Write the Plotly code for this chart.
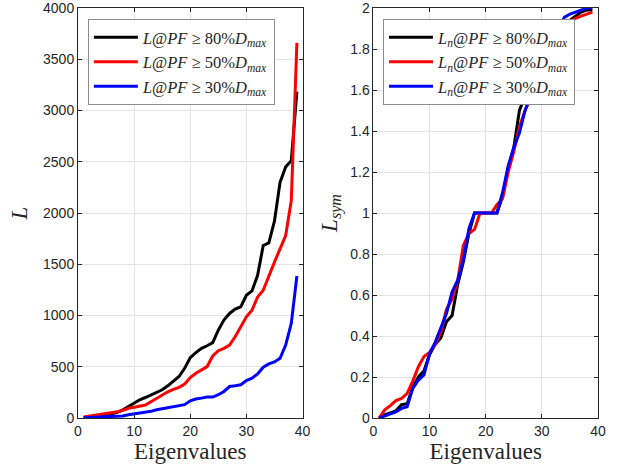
import plotly.graph_objects as go
from plotly.subplots import make_subplots

eig = list(range(1, 40))

L80 = [5, 10, 15, 22, 30, 40, 55, 80, 113, 145, 178, 200, 226, 249, 275, 314, 356, 405, 485, 589,
       638, 680, 705, 735, 858, 955, 1020, 1062, 1085, 1197, 1240, 1392, 1683, 1709, 1920, 2300, 2450, 2510, 3185]
L50 = [10, 18, 25, 30, 38, 45, 60, 75, 95, 104, 117, 127, 159, 192, 224, 256, 279, 299, 331, 395,
       437, 469, 502, 605, 657, 680, 712, 793, 890, 987, 1052, 1181, 1246, 1392, 1521, 1650, 1780, 2120, 3660]
L30 = [2, 4, 6, 8, 10, 13, 16, 20, 32, 39, 49, 58, 65, 81, 91, 104, 107, 120, 130, 168,
       185, 194, 204, 204, 227, 259, 307, 314, 324, 366, 388, 430, 495, 528, 547, 583, 712, 922, 1385]

Ln80 = [0, 0.015, 0.025, 0.035, 0.065, 0.07, 0.15, 0.2, 0.23, 0.31, 0.36, 0.39, 0.47, 0.5, 0.65, 0.76, 0.9, 1.0, 1.0, 1.0,
        1.0, 1.0, 1.08, 1.22, 1.32, 1.5, 1.57, 1.6, 1.63, 1.68, 1.74, 1.8, 1.86, 1.92, 1.94, 1.96, 1.98, 1.99, 1.99]
Ln50 = [0, 0.04, 0.06, 0.085, 0.095, 0.12, 0.18, 0.25, 0.3, 0.32, 0.36, 0.42, 0.53, 0.58, 0.67, 0.84, 0.9, 0.92, 1.0, 1.0,
        1.0, 1.04, 1.07, 1.2, 1.3, 1.42, 1.5, 1.56, 1.58, 1.66, 1.72, 1.78, 1.84, 1.9, 1.93, 1.95, 1.96, 1.97, 1.98]
Ln30 = [0, 0.01, 0.023, 0.03, 0.047, 0.055, 0.145, 0.185, 0.21, 0.315, 0.37, 0.437, 0.51, 0.615, 0.672, 0.77, 0.924, 1.0, 1.0, 1.0,
        1.0, 1.0, 1.1, 1.23, 1.32, 1.39, 1.5, 1.57, 1.62, 1.68, 1.75, 1.82, 1.9, 1.955, 1.97, 1.98, 1.99, 2.0, 2.0]

x_ticks = [0, 10, 20, 30, 40]
L_ticks = [0, 500, 1000, 1500, 2000, 2500, 3000, 3500, 4000]
Lsym_ticks = [0, 0.2, 0.4, 0.6, 0.8, 1.0, 1.2, 1.4, 1.6, 1.8, 2.0]
Lsym_labels = ["0", "0.2", "0.4", "0.6", "0.8", "1", "1.2", "1.4", "1.6", "1.8", "2"]

colors = ["#000000", "#ff0000", "#0000ff"]
pcts = ["80", "50", "30"]

fig = make_subplots(rows=1, cols=2, horizontal_spacing=0.1365)

for ys, c, p in zip([L80, L50, L30], colors, pcts):
    fig.add_trace(go.Scatter(x=eig, y=ys, mode="lines", line=dict(color=c, width=3),
                             name=f"<i>L</i>@<i>PF</i> ≥ {p}%<i>D</i><sub><i>max</i></sub>",
                             legend="legend"), row=1, col=1)
for ys, c, p in zip([Ln80, Ln50, Ln30], colors, pcts):
    fig.add_trace(go.Scatter(x=eig, y=ys, mode="lines", line=dict(color=c, width=3),
                             name=f"<i>L</i><sub><i>n</i></sub>@<i>PF</i> ≥ {p}%<i>D</i><sub><i>max</i></sub>",
                             legend="legend2"), row=1, col=2)

axcol = "#262626"
common = dict(showline=True, linecolor=axcol, linewidth=1, mirror="ticks", ticks="inside",
              ticklen=4, tickcolor=axcol, showgrid=True, gridcolor="#e3e3e3", gridwidth=1,
              zeroline=False, automargin=False, ticklabeloverflow="allow",
              tickfont=dict(family="Liberation Sans, Arial", size=14, color=axcol))

fig.update_xaxes(range=[0, 40], tickvals=x_ticks, ticktext=[str(v) for v in x_ticks], **common,
                 title=dict(text="Eigenvalues", font=dict(family="Liberation Serif, serif", size=23, color=axcol),
                            standoff=4))
fig.update_yaxes(**common)
fig.update_yaxes(range=[0, 4000], tickvals=L_ticks, ticktext=[str(v) for v in L_ticks], row=1, col=1,
                 title=dict(text="<i>L</i>", font=dict(family="Liberation Serif, serif", size=23, color=axcol),
                            standoff=8))
fig.update_yaxes(range=[0, 2], tickvals=Lsym_ticks, ticktext=Lsym_labels, row=1, col=2,
                 title=dict(text="<i>L</i><sub><i>sym</i></sub>", font=dict(family="Liberation Serif, serif", size=23, color=axcol),
                            standoff=6))

legstyle = dict(bgcolor="white", bordercolor="#8c8c8c", borderwidth=1,
                font=dict(family="Liberation Serif, serif", size=16.5, color=axcol),
                xanchor="left", yanchor="top", tracegroupgap=0, itemwidth=44)
fig.update_layout(
    width=619, height=471,
    margin=dict(l=78, r=21, t=8, b=53, autoexpand=False),
    paper_bgcolor="white", plot_bgcolor="white",
    legend=dict(x=0.019, y=0.973, **legstyle),
    legend2=dict(x=0.5865, y=0.973, **legstyle),
)

fig.write_html("out.html", config={"displayModeBar": False},
               post_script="document.body.style.margin='0';document.body.style.overflow='hidden';")
